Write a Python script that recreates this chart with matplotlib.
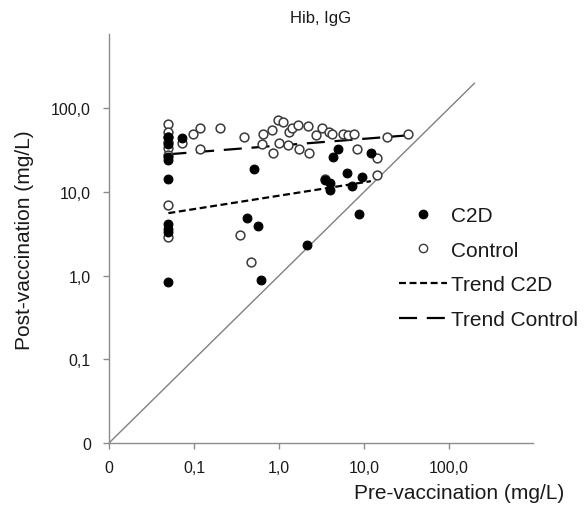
import numpy as np
import matplotlib
matplotlib.use("Agg")
import matplotlib.pyplot as plt
from matplotlib.lines import Line2D

plt.rcParams['font.family'] = ['Liberation Sans', 'DejaVu Sans']
plt.rcParams['lines.scale_dashes'] = False

# C2D group (filled markers): pre, post vaccination (mg/L)
c2d_pre = [0.05, 0.05, 0.05, 0.05, 0.05, 0.05, 0.05, 0.05, 0.05,
           0.072, 0.51, 0.42, 0.57, 0.61, 2.13, 3.48, 3.98, 3.98,
           4.3, 4.9, 6.3, 7.2, 9.5, 8.7, 12.1]
c2d_post = [45, 38, 26, 24, 14.2, 4.1, 3.6, 3.3, 0.85,
            44, 18.8, 4.9, 3.9, 0.9, 2.3, 13.9, 12.8, 10.6,
            26, 32.5, 16.8, 11.8, 15.1, 5.4, 29]

# Control group (open markers)
ctrl_pre = [0.05, 0.05, 0.05, 0.05, 0.05, 0.05, 0.05, 0.05,
            0.072, 0.097, 0.118, 0.118, 0.20, 0.39, 0.65, 0.63, 0.83, 0.85,
            0.97, 1.11, 1.0, 1.31, 1.42, 1.29, 1.67, 1.72, 2.19, 2.25,
            2.72, 3.2, 3.87, 4.2, 5.66, 6.5, 7.6, 8.3, 14.2, 14.2, 18.7,
            33, 3.48, 0.35, 0.47]
ctrl_post = [66, 53, 46, 40, 34, 28, 7.0, 2.9,
             39, 50, 59, 33, 58, 45, 49, 38, 55, 29,
             72, 68, 39, 52, 59, 37, 64, 32.5, 61, 29,
             48, 59, 52, 50, 50, 48, 49, 32.5, 25.4, 15.9, 46,
             50, 14.3, 3.1, 1.45]

# trend lines (end points)
trend_c2d_x = [0.05, 12.1]
trend_c2d_y = [5.6, 13.5]
trend_ctrl_x = [0.05, 33]
trend_ctrl_y = [28.3, 47.7]

# line of identity
identity = [0.01, 200]

yticks = [0.01, 0.1, 1, 10, 100]
ytick_labels = ['0', '0,1', '1,0', '10,0', '100,0']
xticks = [0.01, 0.1, 1, 10, 100]
xtick_labels = ['0', '0,1', '1,0', '10,0', '100,0']

W, H = 588, 510
fig = plt.figure(figsize=(W / 100, H / 100), dpi=100)
ax = fig.add_axes([109 / W, 1 - 444 / H, (533 - 109) / W, (444 - 35) / H])

ax.set_xscale('log')
ax.set_yscale('log')
ax.set_xlim(0.01, 10 ** 2.99)
ax.set_ylim(0.01, 10 ** 2.89)

ax.plot(identity, identity, color='#808080', lw=1.0, zorder=1)

ax.plot(trend_c2d_x, trend_c2d_y, color='black', lw=1.6, dashes=(5, 2.6), zorder=2)
ax.plot(trend_ctrl_x, trend_ctrl_y, color='black', lw=1.6, dashes=(13, 7), zorder=2)

ax.scatter(ctrl_pre, ctrl_post, s=40, facecolor='white', edgecolor='#3a3a3a',
           linewidths=1.1, zorder=3)
ax.scatter(c2d_pre, c2d_post, s=40, facecolor='black', edgecolor='black',
           linewidths=0.8, zorder=4)

for side in ['top', 'right']:
    ax.spines[side].set_visible(False)
for side in ['left', 'bottom']:
    ax.spines[side].set_color('#8c8c8c')
    ax.spines[side].set_linewidth(1.0)

ax.set_xticks(xticks)
ax.set_xticklabels(xtick_labels)
ax.set_yticks(yticks)
ax.set_yticklabels(ytick_labels)
ax.minorticks_off()
ax.tick_params(axis='both', colors='#8c8c8c', labelcolor='#1a1a1a',
               labelsize=11.5, length=4, width=1.0, direction='out')
ax.tick_params(axis='y', pad=9)
ax.tick_params(axis='x', pad=8)

fig.text(321 / W, 1 - 18 / H, 'Hib, IgG', ha='center', va='center',
         fontsize=12, color='#1a1a1a')
fig.text(459 / W, 1 - 494 / H, 'Pre-vaccination (mg/L)', ha='center', va='center',
         fontsize=15, color='#1a1a1a')
fig.text(25 / W, 1 - 240 / H, 'Post-vaccination (mg/L)', ha='center', va='center',
         rotation=90, fontsize=15, color='#1a1a1a')

handles = [
    Line2D([], [], ls='none', marker='o', markersize=6, markerfacecolor='black',
           markeredgecolor='black'),
    Line2D([], [], ls='none', marker='o', markersize=6, markerfacecolor='white',
           markeredgecolor='#3a3a3a'),
    Line2D([], [], color='black', lw=1.6, dashes=(5, 2.6)),
    Line2D([], [], color='black', lw=1.6, dashes=(13, 7)),
]
labels = ['C2D', 'Control', 'Trend C2D', 'Trend Control']
fig.legend(handles, labels, loc='upper left',
           bbox_to_anchor=(399 / W, 1 - 207 / H), bbox_transform=fig.transFigure,
           frameon=False, fontsize=15, handlelength=2.3, handletextpad=0.2,
           labelspacing=0.75, borderpad=0, borderaxespad=0,
           labelcolor='#1a1a1a')

fig.savefig('out.png', dpi=100)
